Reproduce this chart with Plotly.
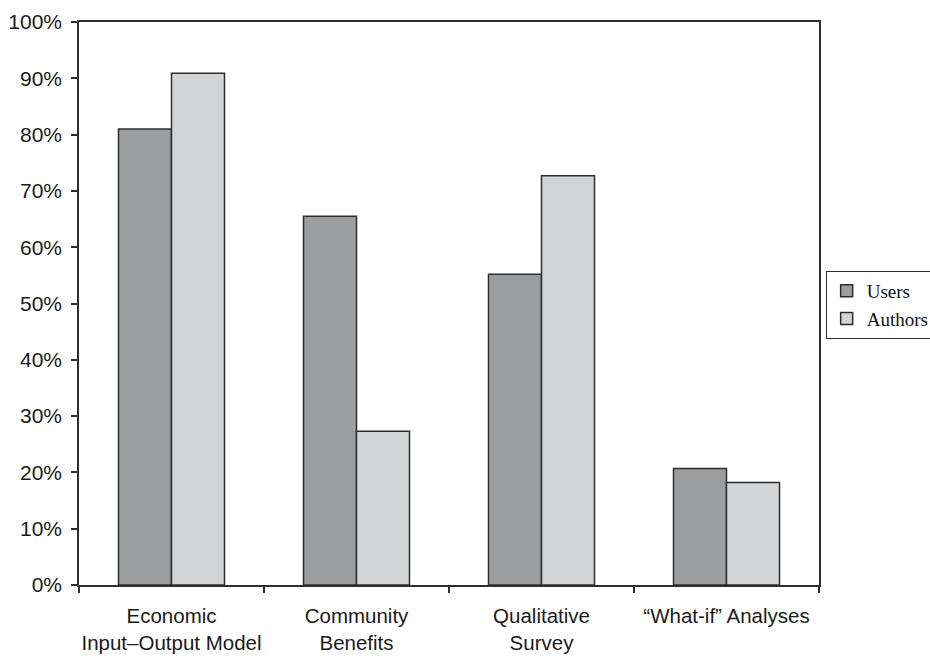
import plotly.graph_objects as go

# Share of respondents using each type of analysis
categories = ["Economic<br>Input\u2013Output Model", "Community<br>Benefits",
              "Qualitative<br>Survey", "\u201cWhat-if\u201d Analyses"]
users = [0.81, 0.655, 0.552, 0.207]
authors = [0.909, 0.273, 0.727, 0.182]
y_ticks = [i / 10 for i in range(11)]

line_col = "#2e2e2e"
sans = "Liberation Sans, Arial, sans-serif"
serif = "Liberation Serif, Times New Roman, serif"

fig = go.Figure()
fig.add_trace(go.Bar(name="Users", x=categories, y=users,
                     marker=dict(color="#9c9d9f", line=dict(color=line_col, width=1.5))))
fig.add_trace(go.Bar(name="Authors", x=categories, y=authors,
                     marker=dict(color="#d3d4d6", line=dict(color=line_col, width=1.5))))

fig.update_layout(
    width=930, height=659,
    margin=dict(l=79, r=111, t=22, b=74, autoexpand=False),
    paper_bgcolor="white", plot_bgcolor="white",
    barmode="group", bargap=0.427, bargroupgap=0,
    showlegend=True,
    legend=dict(x=1.009, y=0.558, xanchor="left", yanchor="top",
                bordercolor=line_col, borderwidth=1, bgcolor="white",
                font=dict(family=serif, size=19, color="#111"),
                itemclick=False),
    font=dict(family=sans, size=21, color="#1a1a1a"),
)
fig.update_xaxes(
    type="category", tickson="boundaries", ticks="outside", ticklen=6,
    tickcolor=line_col, tickwidth=1.5, tickangle=0,
    showline=True, linecolor=line_col, linewidth=1.5, mirror=True,
    showgrid=False, ticklabelstandoff=12,
    tickfont=dict(family=sans, size=20.5, color="#1a1a1a"),
)
fig.update_yaxes(
    range=[0, 1], tickvals=y_ticks, tickformat=".0%",
    ticks="outside", ticklen=6, tickcolor=line_col, tickwidth=1.5,
    showline=True, linecolor=line_col, linewidth=1.5, mirror=True,
    showgrid=False, zeroline=False, ticklabelstandoff=5,
    tickfont=dict(family=sans, size=21, color="#1a1a1a"),
)

fig.write_html("out.html")
